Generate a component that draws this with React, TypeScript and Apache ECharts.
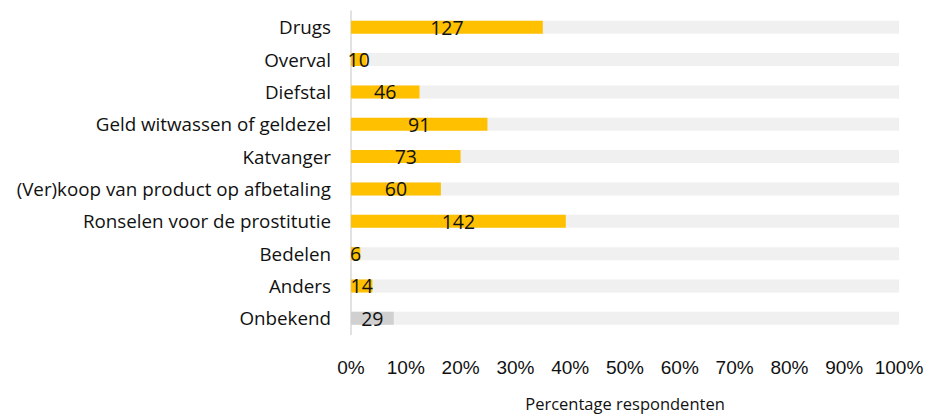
import React, { useEffect, useRef } from "react";
import * as echarts from "echarts";

const categories = [
  "Drugs",
  "Overval",
  "Diefstal",
  "Geld witwassen of geldezel",
  "Katvanger",
  "(Ver)koop van product op afbetaling",
  "Ronselen voor de prostitutie",
  "Bedelen",
  "Anders",
  "Onbekend",
];
const counts = [127, 10, 46, 91, 73, 60, 142, 6, 14, 29];
const percentages = [35.0, 2.8, 12.5, 24.9, 20.0, 16.4, 39.2, 1.7, 3.9, 7.8];
const xTicks = { min: 0, max: 100, interval: 10 };
const xTitle = "Percentage respondenten";

export default function App() {
  const ref = useRef<HTMLDivElement>(null);
  useEffect(() => {
    if (!ref.current) return;
    const chart = echarts.init(ref.current, null, { renderer: "svg" });
    chart.setOption({
      animation: false,
      backgroundColor: "#ffffff",
      grid: { left: 351, right: 32, top: 11, bottom: 84.5, containLabel: false },
      xAxis: {
        type: "value",
        min: xTicks.min,
        max: xTicks.max,
        interval: xTicks.interval,
        axisLine: { show: false },
        axisTick: { show: false },
        splitLine: { show: false },
        axisLabel: {
          formatter: "{value}%",
          fontFamily: "Liberation Sans",
          fontSize: 19,
          color: "#111111",
          margin: 23,
        },
        name: xTitle,
        nameLocation: "middle",
        nameGap: 60,
        nameTextStyle: { fontFamily: "Open Sans", fontSize: 16.5, color: "#111111" },
      },
      yAxis: {
        type: "category",
        inverse: true,
        data: categories,
        axisLine: { show: true, lineStyle: { color: "#d9d9d9", width: 1.5 } },
        axisTick: { show: false },
        axisLabel: {
          fontFamily: "Open Sans",
          fontSize: 18.8,
          color: "#111111",
          margin: 20,
        },
      },
      series: [
        {
          type: "bar",
          barWidth: 13,
          showBackground: true,
          backgroundStyle: { color: "#f0f0f0" },
          data: percentages.map((v, i) => ({
            value: v,
            itemStyle: { color: i === categories.length - 1 ? "#d0d0d0" : "#ffc000" },
          })),
          label: {
            show: true,
            position: "inside",
            formatter: (p: any) => String(counts[p.dataIndex]),
            fontFamily: "Open Sans",
            fontSize: 19.5,
            color: "#111111",
          },
          labelLayout: { hideOverlap: false },
        },
      ],
    });
    return () => chart.dispose();
  }, []);
  return (
    <div
      ref={ref}
      style={{ position: "fixed", left: 0, top: 0, width: 931, height: 419 }}
    />
  );
}
